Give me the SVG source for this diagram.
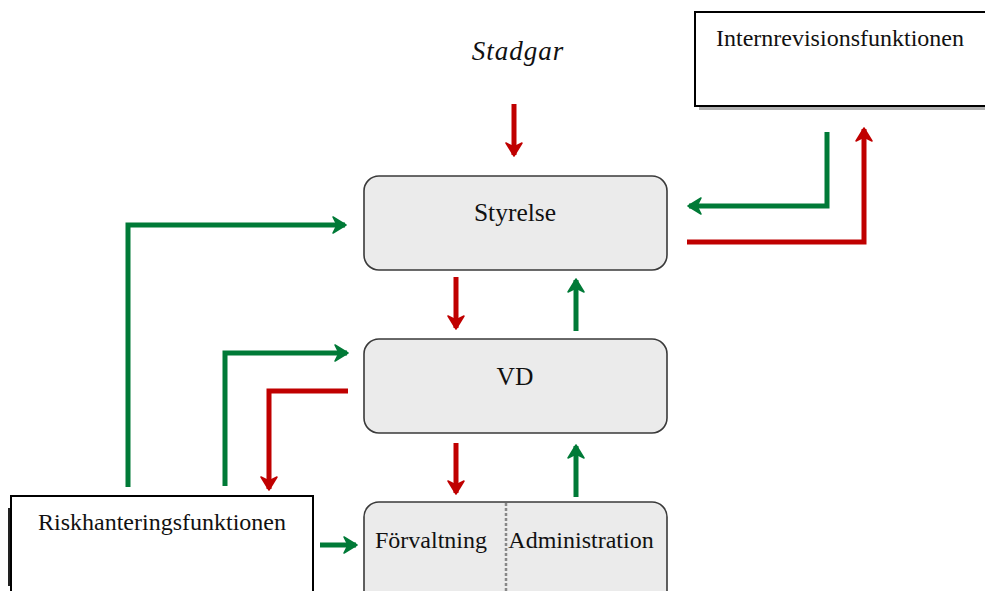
<svg xmlns="http://www.w3.org/2000/svg" width="985" height="591" viewBox="0 0 985 591">
<defs>
<style>
.box{fill:#ebebeb;stroke:#3a3a3a;stroke-width:1.6}
.plain{fill:#fff;stroke:#000;stroke-width:2}
.t{font-family:"Liberation Serif","Times New Roman",serif;font-size:24px;fill:#111}
.big{font-size:25.5px}
.it{font-style:italic;font-size:27px;letter-spacing:1px}
.r{fill:none;stroke:#c00000;stroke-width:5}
.g{fill:none;stroke:#007a37;stroke-width:5}
</style>
<marker id="hr" markerUnits="userSpaceOnUse" markerWidth="20" markerHeight="20" viewBox="0 0 20 20" refX="14" refY="10" orient="auto"><path d="M2,2 L15,10 L2,18 L6,10 Z" fill="#c00000" stroke="#c00000" stroke-width="1.5" stroke-linejoin="round"/></marker>
<marker id="hg" markerUnits="userSpaceOnUse" markerWidth="20" markerHeight="20" viewBox="0 0 20 20" refX="14" refY="10" orient="auto"><path d="M2,2 L15,10 L2,18 L6,10 Z" fill="#007a37" stroke="#007a37" stroke-width="1.5" stroke-linejoin="round"/></marker>
</defs>
<rect width="985" height="591" fill="#fff"/>
<g id="stadgar"><text class="t it" x="518" y="60" text-anchor="middle">Stadgar</text></g>
<g id="internrevision">
<rect x="699" y="16" width="292" height="94" fill="#b0b0b0"/>
<rect class="plain" x="695" y="12" width="296" height="94"/>
<text class="t" x="716" y="46">Internrevisionsfunktionen</text>
</g>
<g id="styrelse"><rect class="box" x="364" y="176" width="303" height="94" rx="15"/><text class="t big" x="515" y="221" text-anchor="middle">Styrelse</text></g>
<g id="vd"><rect class="box" x="364" y="339" width="303" height="94" rx="15"/><text class="t big" x="515" y="385" text-anchor="middle">VD</text></g>
<g id="forvaltning-administration"><rect class="box" x="364" y="502" width="303" height="110" rx="15"/>
<line x1="506" y1="503" x2="506" y2="591" stroke="#888" stroke-width="2.5" stroke-dasharray="3,2"/>
<text class="t" x="431" y="548" text-anchor="middle">Förvaltning</text>
<text class="t" x="581" y="548" text-anchor="middle">Administration</text></g>
<g id="riskhantering">
<rect x="8" y="508" width="6" height="78" fill="#222"/>
<rect class="plain" x="11" y="496" width="302" height="97"/>
<text class="t" x="162" y="530" text-anchor="middle">Riskhanteringsfunktionen</text>
</g>
<g id="connectors">
<path class="r" d="M514,104 V155" marker-end="url(#hr)"/>
<path class="r" d="M456,277 V328" marker-end="url(#hr)"/>
<path class="g" d="M576,331 V280" marker-end="url(#hg)"/>
<path class="r" d="M456,443 V493" marker-end="url(#hr)"/>
<path class="g" d="M576,497 V446" marker-end="url(#hg)"/>
<path class="g" d="M827,132 V206 H689" marker-end="url(#hg)"/>
<path class="r" d="M687,242 H864 V129" marker-end="url(#hr)"/>
<path class="g" d="M128,487 V225 H345" marker-end="url(#hg)"/>
<path class="g" d="M225,486 V353 H347" marker-end="url(#hg)"/>
<path class="r" d="M348,391 H269 V489" marker-end="url(#hr)"/>
<path class="g" d="M320,545 H356" marker-end="url(#hg)"/>
</g>
</svg>
